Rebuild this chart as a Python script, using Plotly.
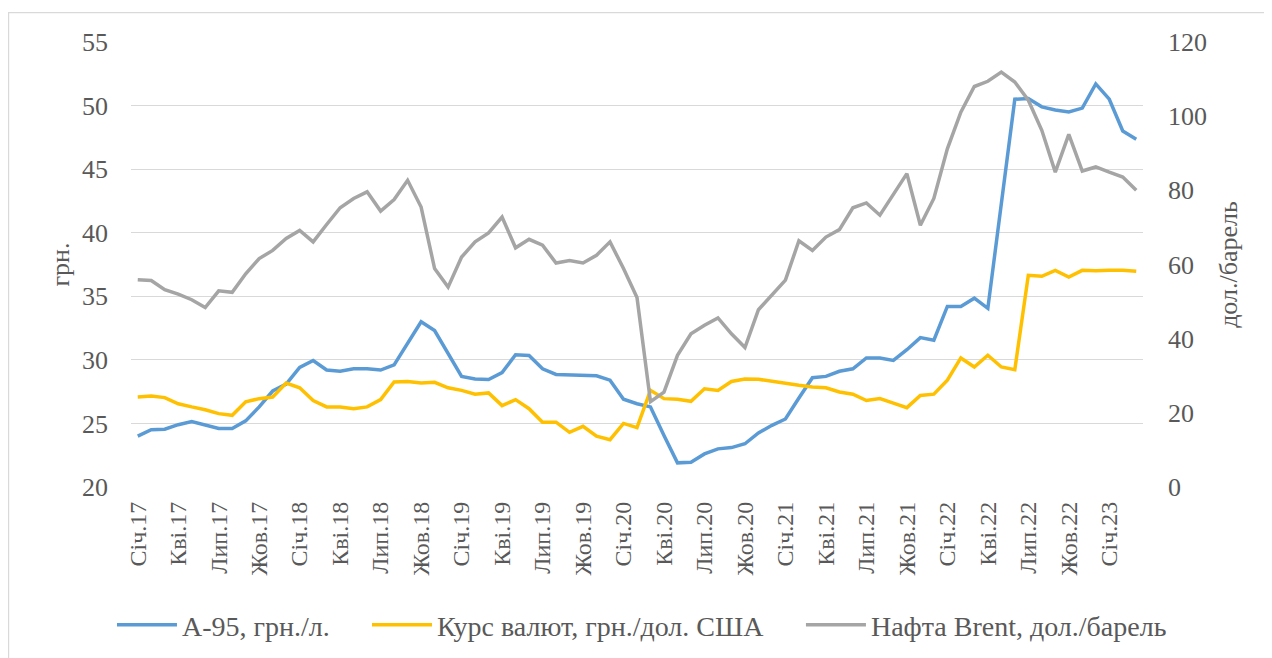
import plotly.graph_objects as go

month_names = ["Січ", "Лют", "Бер", "Кві", "Тра", "Чер", "Лип", "Сер", "Вер", "Жов", "Лис", "Гру"]
years = ["17", "18", "19", "20", "21", "22", "23"]
categories = [f"{m}.{y}" for y in years for m in month_names][:75]  # Jan 2017 .. Mar 2023

a95 = [24.0, 24.5, 24.55, 24.9, 25.15, 24.9, 24.6, 24.6, 25.2, 26.3,
       27.55, 28.1, 29.4, 29.95, 29.2, 29.1, 29.3, 29.3, 29.2, 29.6,
       31.3, 33.0, 32.3, 30.45, 28.7, 28.5, 28.45, 29.0, 30.4, 30.35,
       29.3, 28.85, 28.8, 28.8, 28.75, 28.4, 26.9, 26.55, 26.3, 24.05,
       21.9, 21.95, 22.6, 23.0, 23.1, 23.4, 24.25, 24.85, 25.35, 27.0,
       28.6, 28.7, 29.1, 29.3, 30.15, 30.15, 29.95, 30.8, 31.75, 31.55,
       34.2, 34.2, 34.85, 34.05, 42.3, 50.5, 50.55, 49.9, 49.65, 49.5,
       49.8, 51.7, 50.5, 48.0, 47.35]

kurs = [27.08, 27.15, 27.03, 26.55, 26.3, 26.08, 25.77, 25.64, 26.7, 26.95,
        27.08, 28.18, 27.8, 26.8, 26.3, 26.3, 26.16, 26.3, 26.87, 28.26,
        28.3, 28.18, 28.23, 27.8, 27.6, 27.3, 27.4, 26.4, 26.87, 26.16,
        25.1, 25.1, 24.3, 24.77, 24.0, 23.72, 25.0, 24.67, 27.6, 26.95,
        26.9, 26.74, 27.73, 27.6, 28.3, 28.5, 28.47, 28.3, 28.13, 28.0,
        27.87, 27.8, 27.47, 27.3, 26.8, 26.95, 26.6, 26.24, 27.2, 27.3,
        28.4, 30.15, 29.44, 30.36, 29.44, 29.23, 36.65, 36.57, 37.04, 36.52,
        37.04, 37.0, 37.04, 37.04, 36.96]

brent = [55.9, 55.7, 53.2, 52.0, 50.5, 48.4, 52.9, 52.5, 57.5, 61.6,
         63.8, 67.0, 69.2, 66.1, 70.8, 75.3, 77.8, 79.6, 74.4, 77.5,
         82.7, 75.5, 58.9, 53.9, 62.0, 66.1, 68.5, 72.8, 64.5, 66.8,
         65.2, 60.4, 61.1, 60.4, 62.5, 66.1, 58.9, 51.1, 23.0, 25.6,
         35.5, 41.3, 43.6, 45.6, 41.3, 37.6, 47.8, 51.7, 55.8, 66.4,
         63.8, 67.4, 69.4, 75.3, 76.6, 73.3, 79.1, 84.5, 70.6, 77.8,
         91.2, 101.1, 108.0, 109.4, 111.9, 109.2, 104.3, 96.2, 84.9, 95.1,
         85.2, 86.3, 84.9, 83.6, 80.0]

series_names = ["А-95, грн./л.", "Курс валют, грн./дол. США", "Нафта Brent, дол./барель"]
colors = ["#5B9BD5", "#FFC000", "#A5A5A5"]

FONT = "Liberation Serif, Times New Roman, serif"
TXT = "#595959"

fig = go.Figure()
fig.add_trace(go.Scatter(x=categories, y=a95, name=series_names[0], mode="lines", showlegend=True,
                         line=dict(color=colors[0], width=3.5), legend="legend"))
fig.add_trace(go.Scatter(x=categories, y=kurs, name=series_names[1], mode="lines", showlegend=True,
                         line=dict(color=colors[1], width=3.5), legend="legend2"))
fig.add_trace(go.Scatter(x=categories, y=brent, name=series_names[2], mode="lines", yaxis="y2",
                         showlegend=True, line=dict(color=colors[2], width=3.5), legend="legend3"))

leg_common = dict(orientation="h", y=-0.254, yanchor="top", xanchor="left", itemwidth=60,
                  font=dict(size=28, color=TXT, family=FONT), bgcolor="rgba(0,0,0,0)")

fig.update_layout(
    width=1264, height=650,
    margin=dict(l=123, r=129, t=34, b=171, autoexpand=False),
    paper_bgcolor="white", plot_bgcolor="white",
    showlegend=True,
    font=dict(family=FONT, color=TXT),
    xaxis=dict(type="category", range=[-0.5, 74.5], tickmode="array",
               tickvals=categories[::3], ticktext=categories[::3],
               tickangle=-90, tickfont=dict(size=24, color=TXT, family=FONT),
               showgrid=False, showline=False, ticks="", zeroline=False,
               ticklabelstandoff=9, automargin=False),
    yaxis=dict(range=[20, 55], dtick=5, showgrid=True, gridcolor="#D9D9D9", gridwidth=1.3,
               zeroline=False, showline=False, ticks="", automargin=False,
               tickfont=dict(size=26, color=TXT, family=FONT), ticklabelstandoff=22,
               title=dict(text="грн.", font=dict(size=26, color=TXT, family=FONT), standoff=4)),
    yaxis2=dict(range=[0, 120], dtick=20, overlaying="y", side="right", showgrid=False,
                zeroline=False, showline=False, ticks="", automargin=False,
                tickfont=dict(size=26, color=TXT, family=FONT), ticklabelstandoff=24,
                title=dict(text="дол./барель", font=dict(size=26, color=TXT, family=FONT), standoff=12)),
    legend=dict(x=-0.0188, **leg_common),
    legend2=dict(x=0.2332, **leg_common),
    legend3=dict(x=0.662, **leg_common),
    shapes=[dict(type="rect", xref="paper", yref="paper", x0=-0.121, x1=1.2, y0=-0.6, y1=1.066,
                 line=dict(color="#D9D9D9", width=1.3), fillcolor="rgba(0,0,0,0)", layer="below")],
)

fig.write_html("out.html")
